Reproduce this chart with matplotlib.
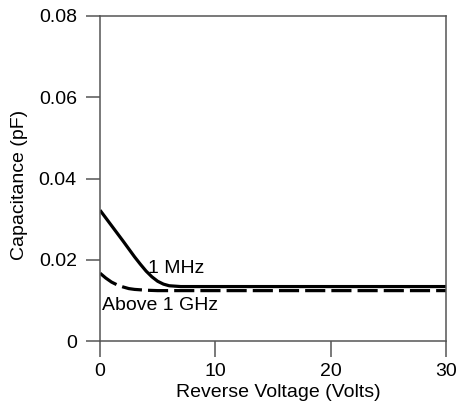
import matplotlib
matplotlib.use("Agg")
import matplotlib.pyplot as plt

plt.rcParams['font.family'] = ['Liberation Sans', 'DejaVu Sans']

# Data
v_1mhz = [0, 1, 2, 3, 3.5, 4, 4.5, 5, 5.5, 6, 6.5, 7, 30]
c_1mhz = [0.0322, 0.0284, 0.0246, 0.0207, 0.0189, 0.0172, 0.0158, 0.0147, 0.0140, 0.0136, 0.0135, 0.0134, 0.0134]
v_1ghz = [0, 0.5, 1, 1.5, 2, 2.5, 3, 4, 5, 30]
c_1ghz = [0.0167, 0.0155, 0.0145, 0.0138, 0.0133, 0.0129, 0.0127, 0.0125, 0.0124, 0.0124]
xticks = [0, 10, 20, 30]
yticks = [0, 0.02, 0.04, 0.06, 0.08]
yticklabels = ['0', '0.02', '0.04', '0.06', '0.08']

W, H = 459, 413
fig = plt.figure(figsize=(W / 100, H / 100), dpi=100)
ax = fig.add_axes([100 / W, 1 - 341 / H, 346 / W, 325 / H])

ax.plot(v_1mhz, c_1mhz, color='black', lw=2.3, solid_capstyle='butt', solid_joinstyle='round')
ax.plot(v_1ghz, c_1ghz, color='black', lw=2.3, dashes=(6.3, 1.9), dash_capstyle='butt')

ax.set_xlim(0, 30)
ax.set_ylim(0, 0.08)
ax.set_xticks(xticks)
ax.set_yticks(yticks)
ax.set_yticklabels(yticklabels)

fs = 14
gray = '#555555'
for s in ax.spines.values():
    s.set_color(gray)
    s.set_linewidth(1.1)
ax.tick_params(axis='x', direction='out', length=11.5, width=1.1, color=gray, labelsize=fs, pad=4.5)
ax.tick_params(axis='y', direction='out', length=10.2, width=1.1, color=gray, labelsize=fs, pad=6.5)

ax.set_xlabel('Reverse Voltage (Volts)', fontsize=fs)
ax.set_ylabel('Capacitance (pF)', fontsize=fs)
ax.xaxis.set_label_coords(0.514, -0.132)
ax.yaxis.set_label_coords(-0.208, 0.48)

ax.text(4.2, 0.0167, '1 MHz', fontsize=fs, ha='left', va='baseline')
ax.text(0.15, 0.0076, 'Above 1 GHz', fontsize=fs, ha='left', va='baseline')

fig.savefig('out.png', dpi=100)
